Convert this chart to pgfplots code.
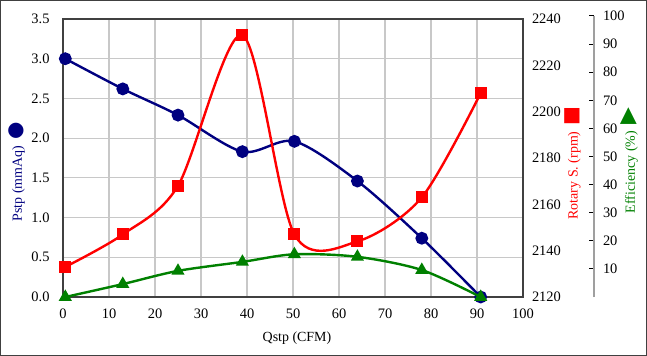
\documentclass[border=0pt]{standalone}
\usepackage{pgfplots}
\pgfplotsset{compat=1.18}
\usepackage{fontspec}
\setmainfont{Liberation Serif}
\newfontfamily\symfont{DejaVu Sans}
\definecolor{cnavy}{RGB}{0,0,128}
\definecolor{cred}{RGB}{255,0,0}
\definecolor{cgreen}{RGB}{0,128,0}
\definecolor{gridc}{RGB}{200,200,200}
\definecolor{framec}{RGB}{64,64,64}
\pgfplotsset{
  base/.style={scale only axis, width=460bp, height=278bp, xmin=0, xmax=100,
    /pgf/number format/assume math mode=true,
    /pgf/number format/set thousands separator={},
    tick label style={font=\fontsize{14.5}{17}\selectfont},
    label style={font=\fontsize{14}{17}\selectfont},
    major tick length=0pt},
}
\begin{document}
\begin{tikzpicture}[font=\fontsize{14}{17}\selectfont]
% primary axis: Pstp
\begin{axis}[base, ymin=0, ymax=3.5,
  xtick={0,10,20,30,40,50,60,70,80,90,100},
  ytick={0,0.5,1,1.5,2,2.5,3,3.5},
  yticklabel style={xshift=-10bp, /pgf/number format/fixed, /pgf/number format/fixed zerofill, /pgf/number format/precision=1},
  xticklabel style={yshift=-8bp},
  grid=major, major grid style={gridc, line width=1.2bp},
  axis line style={framec, line width=1.3bp},
  xlabel={Qstp (CFM)},
  every axis x label/.style={at={(rel axis cs:0.5087,0)}, anchor=center, yshift=-41bp},
  axis on top=false]
\addplot[cnavy, line width=2.4bp, smooth, mark=*, mark size=5.2bp, mark options={solid}]
  coordinates {(0.5,3.00) (13,2.62) (25,2.29) (39,1.83) (50.3,1.96) (64,1.46) (78,0.74) (90.8,0.00)};
\end{axis}
% rpm axis
\begin{axis}[base, ymin=2120, ymax=2240,
  ytick={2120,2140,2160,2180,2200,2220,2240},
  axis y line*=right, hide x axis,
  axis line style={framec, line width=1.3bp},
  yticklabel style={xshift=5.5bp}]
\addplot[cred, line width=2.4bp, smooth, mark=square*, mark size=4.8bp, mark options={solid}]
  coordinates {(0.5,2133) (13,2147) (25,2168) (39,2233) (50.3,2147) (64,2144) (78,2163) (90.8,2208)};
\end{axis}
% efficiency data
\begin{axis}[base, height=281bp, ymin=0, ymax=100, hide axis]
\addplot[cgreen, line width=2.4bp, smooth, mark=triangle*, mark size=5.2bp, mark options={solid}]
  coordinates {(0.5,0) (13,4.6) (25,9.3) (39,12.5) (50.3,15.2) (64,14.3) (78,9.6) (90.8,0)};
\end{axis}
% efficiency scale
\begin{axis}[base, height=281bp, at={(71bp,0)}, ymin=0, ymax=100,
  ytick={10,20,30,40,50,60,70,80,90,100},
  axis y line*=right, hide x axis,
  y axis line style={gray!75, line width=1.2bp},
  tick align=inside, major tick length=5bp,
  major tick style={black, line width=1bp},
  yticklabel style={xshift=5.5bp}]
\addplot[draw=none] coordinates {(0,0)};
\end{axis}
% axis titles with symbols
\node[rotate=90, text=cnavy, inner sep=0pt] at (-46bp,125bp)
  {Pstp (mmAq)\hspace{6bp}{\symfont\fontsize{20}{20}\selectfont ●}};
\node[rotate=90, text=cred, inner sep=0pt] at (509.7bp,134bp)
  {Rotary S. (rpm)\hspace{6bp}{\symfont\fontsize{20}{20}\selectfont ■}};
\node[rotate=90, text=cgreen, inner sep=0pt] at (566.3bp,136.5bp)
  {Efficiency (\%)\hspace{6bp}{\symfont\fontsize{22}{22}\selectfont ▶}};
\draw[framec, line width=1.2bp] (-62.4bp,-58.4bp) rectangle (583.4bp,296.4bp);
\pgfresetboundingbox
\useasboundingbox (-63bp,-59bp) rectangle (584bp,297bp);
\end{tikzpicture}
\end{document}
